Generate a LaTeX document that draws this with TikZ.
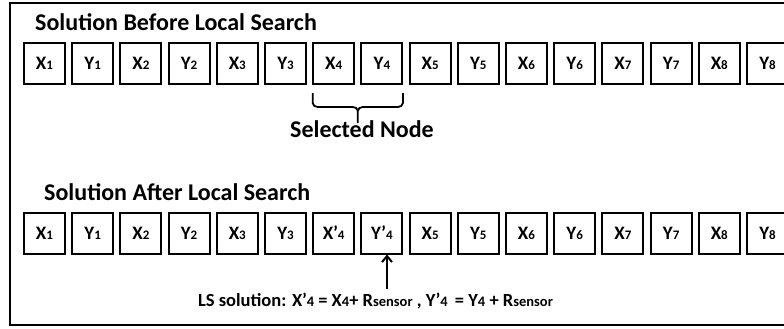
\documentclass[tikz,border=0pt]{standalone}
\usepackage{fontspec}
\setmainfont{Carlito}
\usetikzlibrary{arrows.meta,calc}
\newcommand\smd[1]{{\fontsize{13}{13}\selectfont #1}}
\newcommand\sml[1]{{\fontsize{14.5}{14.5}\selectfont #1}}
\begin{document}
\begin{tikzpicture}[x=1pt,y=-1pt,
  cell/.style={draw,line width=2pt,minimum width=41pt,minimum height=41pt,inner sep=0pt,
    font=\fontsize{19}{19}\selectfont\bfseries},
  ttl/.style={anchor=base west,inner sep=0pt,font=\fontsize{24}{24}\selectfont\bfseries},
  lbl/.style={inner sep=0pt,font=\fontsize{18.5}{18.5}\selectfont\bfseries}]
\useasboundingbox (0,0) rectangle (784,329);
\begin{scope}
\clip (0,0) rectangle (784,329);
\draw[line width=2pt] (9.5,3) rectangle (800,324.5);
\end{scope}
\node[ttl] (t1) at (35,31) {Solution Before Local Search};
\node[ttl] (t2) at (44,200.5) {Solution After Local Search};
\foreach \i/\t in {0/X\smd{1},1/Y\smd{1},2/X\smd{2},3/Y\smd{2},4/X\smd{3},5/Y\smd{3},6/X\smd{4},7/Y\smd{4},
  8/X\smd{5},9/Y\smd{5},10/X\smd{6},11/Y\smd{6},12/X\smd{7},13/Y\smd{7},14/X\smd{8},15/Y\smd{8}}{
  \pgfmathtruncatemacro\k{\i+1}
  \node[cell] (a\k) at ({44.5+48.2*\i},63.5) {\t};
}
\foreach \i/\t in {0/X\smd{1},1/Y\smd{1},2/X\smd{2},3/Y\smd{2},4/X\smd{3},5/Y\smd{3},6/X’\smd{4},7/Y’\smd{4},
  8/X\smd{5},9/Y\smd{5},10/X\smd{6},11/Y\smd{6},12/X\smd{7},13/Y\smd{7},14/X\smd{8},15/Y\smd{8}}{
  \pgfmathtruncatemacro\k{\i+1}
  \node[cell] (b\k) at ({44.5+48.2*\i},233) {\t};
}
% brace
\coordinate (bl) at ($(a7.south west)+(0.5,8)$);
\coordinate (br) at ($(a8.south east)+(-0.5,8)$);
\coordinate (bm) at ($(bl)!0.5!(br)$);
\draw[line width=1.8pt] (bl) -- ++(0,10) to[out=-90,in=180] ++(5,4) -- ($(bm)+(-5,14)$)
  to[out=0,in=90] ($(bm)+(0,18)$) -- ($(bm)+(0,30)$);
\draw[line width=1.8pt] (br) -- ++(0,10) to[out=-90,in=0] ++(-5,4) -- ($(bm)+(5,14)$)
  to[out=180,in=90] ($(bm)+(0,18)$);
\node[inner sep=0pt,anchor=base,font=\fontsize{24}{24}\selectfont\bfseries] (sel) at (362,137) {Selected Node};
% LS solution
\node[lbl,anchor=base] (ls) at (375.5,306) {LS solution: X’\sml{4} = X\sml{4}+ R\sml{sensor} , Y’\sml{4} \,= Y\sml{4} + R\sml{sensor}};
\draw[line width=2pt,-{Straight Barb[length=6pt,width=10pt]}] ($(ls.north)+(11.5,-3)$) coordinate (ab) -- (ab |- b8.south);
\end{tikzpicture}
\end{document}
